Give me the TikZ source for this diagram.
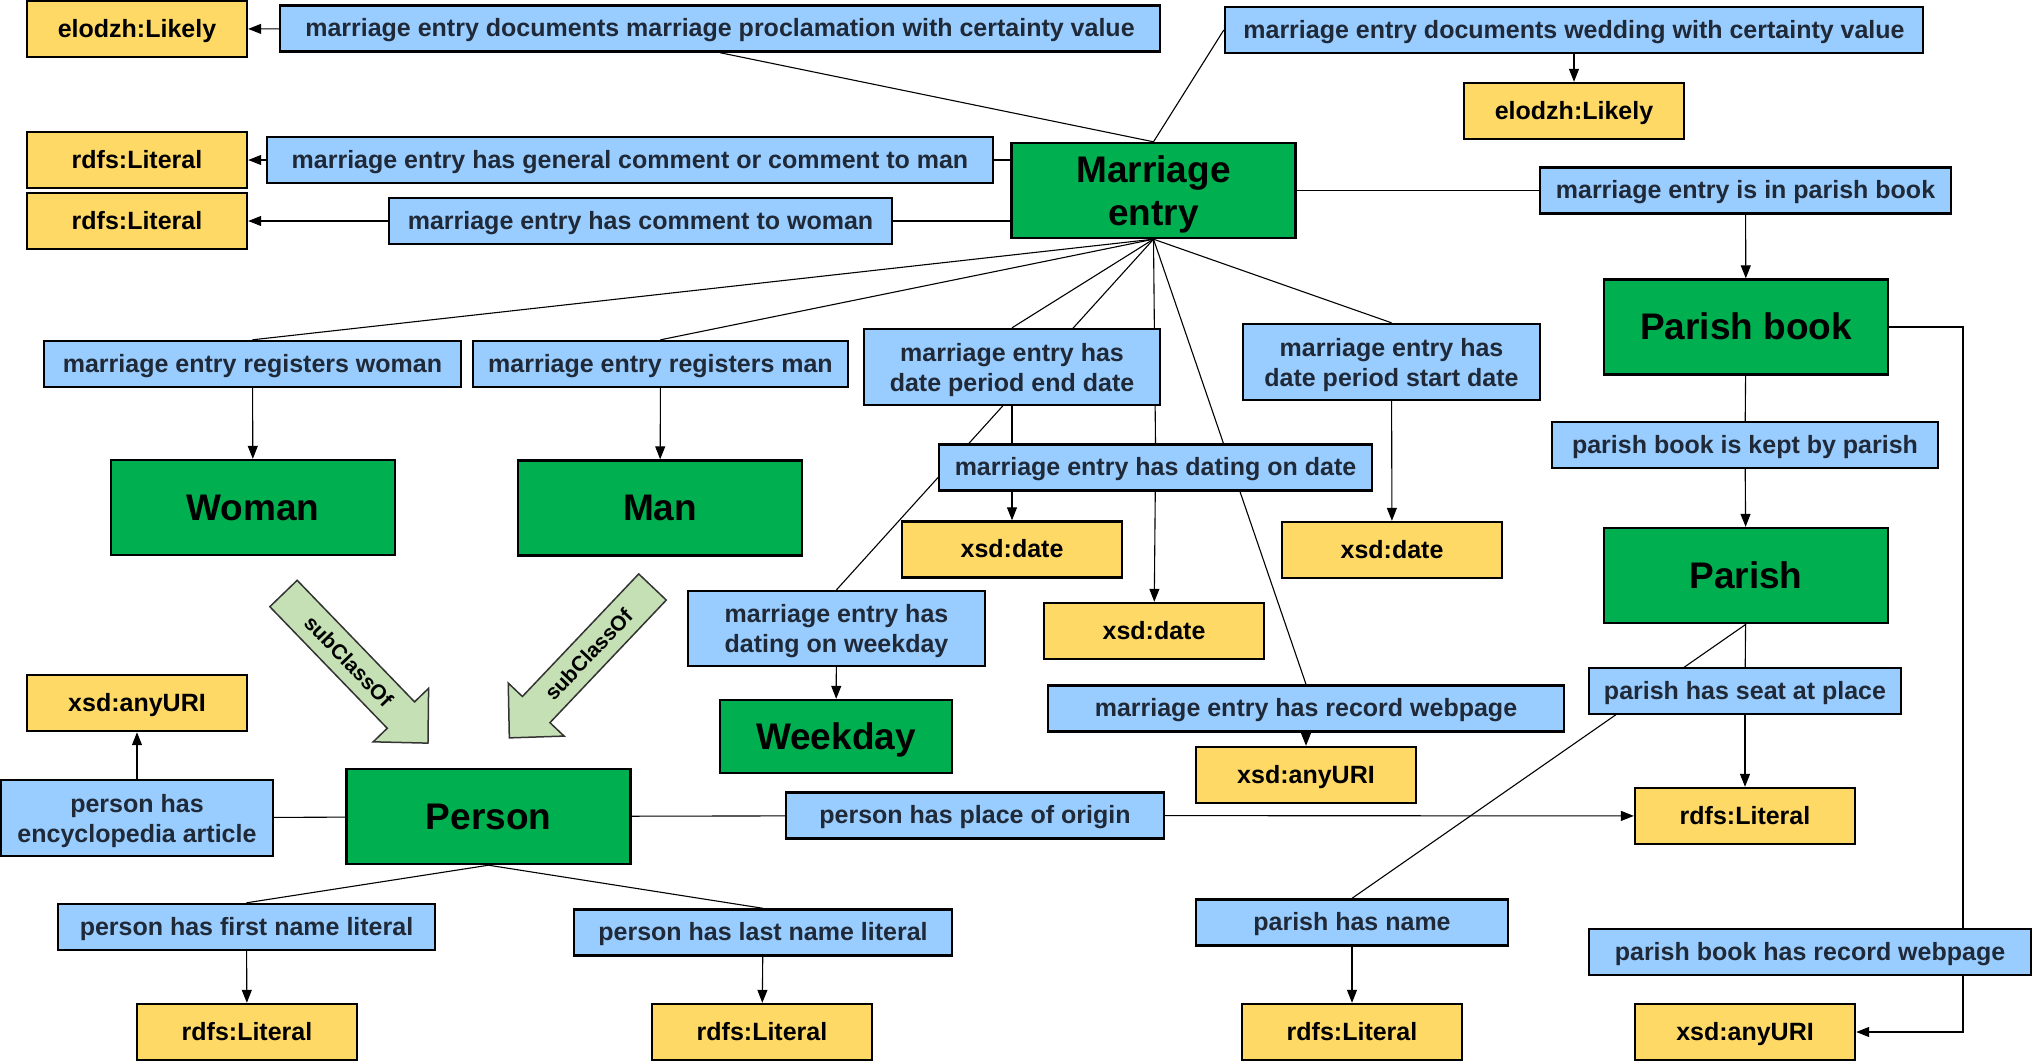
\documentclass[tikz,border=0pt]{standalone}
\usepackage{fontspec}
\setmainfont{Liberation Sans}
\usetikzlibrary{arrows.meta,backgrounds}
\definecolor{propfill}{RGB}{153,204,255}
\definecolor{litfill}{RGB}{255,217,102}
\definecolor{clsfill}{RGB}{0,176,80}
\definecolor{subfill}{RGB}{197,224,180}
\definecolor{proptext}{RGB}{31,41,55}
\begin{document}
\begin{tikzpicture}[x=1pt,y=-1pt]

\tikzstyle{box}=[draw, line width=2.4pt, inner sep=0pt, align=center, text height=18pt, text depth=2pt, font=\fontsize{25}{30}\selectfont\bfseries];
\tikzstyle{two}=[text height={}, text depth=0pt];
\tikzstyle{lit}=[box, fill=litfill, minimum width=220, minimum height=56];
\tikzstyle{prop}=[box, fill=propfill, text=proptext, minimum height=46];
\tikzstyle{cls}=[box, fill=clsfill, text height=27pt, font=\fontsize{37}{43}\selectfont\bfseries, minimum width=284, minimum height=95];
\tikzstyle{e}=[line width=1.1pt];
\tikzstyle{a}=[e, -{Triangle[length=13pt,width=10pt]}];
\tikzstyle{sub}=[draw=black!80, line width=1.5pt, fill=subfill];

\useasboundingbox (0,0) rectangle (2032,1063);

\node[lit] (lik1) at (137,29) {elodzh:Likely};
\node[prop, minimum width=880] (procl) at (720,28.5) {marriage entry documents marriage proclamation with certainty value};
\node[prop, minimum width=698] (wed) at (1574,30) {marriage entry documents wedding with certainty value};
\node[lit] (lik2) at (1574,111) {elodzh:Likely};
\node[lit] (lit1) at (137,160) {rdfs:Literal};
\node[prop, minimum width=726] (gencom) at (630,160) {marriage entry has general comment or comment to man};
\node[lit] (lit2) at (137,221) {rdfs:Literal};
\node[prop, minimum width=503] (womcom) at (640.5,221) {marriage entry has comment to woman};
\node[cls, two] (me) at (1153.5,190.5) {Marriage\\entry};
\node[prop, minimum width=411] (inbook) at (1745.5,190.5) {marriage entry is in parish book};

\node[cls] (pbook) at (1746,327) {Parish book};
\node[prop, minimum width=386] (kept) at (1745,445) {parish book is kept by parish};
\node[cls] (parish) at (1746,575.5) {Parish};
\node[prop, minimum width=312] (seat) at (1745,691) {parish has seat at place};
\node[lit] (lit3) at (1745,816) {rdfs:Literal};
\node[prop, minimum width=312] (pname) at (1352,922.5) {parish has name};
\node[lit] (lit4) at (1352,1032) {rdfs:Literal};
\node[prop, minimum width=442] (pbweb) at (1810,952) {parish book has record webpage};
\node[lit] (uri3) at (1745,1032) {xsd:anyURI};
\coordinate (pbturn) at (1963,1032);

\node[prop, minimum width=417] (regw) at (252.5,364) {marriage entry registers woman};
\node[prop, minimum width=375] (regm) at (660.5,364) {marriage entry registers man};
\node[cls] (woman) at (253,507.5) {Woman};
\node[cls] (man) at (660,508) {Man};
\node[prop, two, minimum width=296, minimum height=76] (enddate) at (1012,367) {marriage entry has\\date period end date};
\node[prop, two, minimum width=297, minimum height=76] (startdate) at (1391.5,362) {marriage entry has\\date period start date};
\node[prop, minimum width=433] (ondate) at (1155.5,467.5) {marriage entry has dating on date};
\node[lit] (date1) at (1012,549.5) {xsd:date};
\node[lit] (date2) at (1154,631) {xsd:date};
\node[lit] (date3) at (1392,550) {xsd:date};
\node[prop, two, minimum width=297, minimum height=75] (onwday) at (836.5,628.5) {marriage entry has\\dating on weekday};
\node[cls, minimum width=232, minimum height=73] (wday) at (836,736.5) {Weekday};
\node[prop, minimum width=516] (recweb) at (1306,708.5) {marriage entry has record webpage};
\node[lit] (uri1) at (1306,775) {xsd:anyURI};

\node[cls] (person) at (488.5,816.5) {Person};
\node[prop, minimum width=378] (origin) at (975,815.5) {person has place of origin};
\node[prop, two, minimum width=272, minimum height=76] (encyc) at (137,818) {person has\\encyclopedia article};
\node[lit] (uri2) at (137,703) {xsd:anyURI};
\node[prop, minimum width=377] (first) at (246.5,927) {person has first name literal};
\node[prop, minimum width=378] (last) at (763,932.5) {person has last name literal};
\node[lit] (lit5) at (247,1032) {rdfs:Literal};
\node[lit] (lit6) at (762,1032) {rdfs:Literal};

\begin{scope}[shift={(283.5,593.5)}, rotate=-46]
\draw[sub] (0,-19) -- (169,-19) -- (169,-38.5) -- (208,0) -- (169,38.5) -- (169,19) -- (0,19) -- cycle;
\node[transform shape, font=\fontsize{21}{21}\selectfont\bfseries] (subw) at (94,0) {subClassOf};
\end{scope}
\begin{scope}[shift={(652.5,587)}, rotate=-133.5]
\draw[sub] (0,-19) -- (169,-19) -- (169,-38.5) -- (208,0) -- (169,38.5) -- (169,19) -- (0,19) -- cycle;
\node[transform shape, rotate=180, font=\fontsize{21}{21}\selectfont\bfseries] (subm) at (93,0) {subClassOf};
\end{scope}

\begin{pgfonlayer}{background}
\draw[e] (me.north) -- (procl.south);
\draw[a] (procl) -- (lik1);
\draw[e] (me.north) -- (wed.west);
\draw[a] (wed) -- (lik2);
\draw[e] (me.west |- gencom) -- (gencom);
\draw[a] (gencom) -- (lit1);
\draw[e] (me.west |- womcom) -- (womcom);
\draw[a] (womcom) -- (lit2);
\draw[e] (me) -- (inbook);
\draw[a] (inbook) -- (pbook);
\draw[e] (pbook) -- (kept);
\draw[a] (kept) -- (parish);
\draw[e] (parish) -- (seat);
\draw[a] (seat) -- (lit3);
\draw[e] (parish.south) -- (pname.north);
\draw[a] (pname) -- (lit4);
\draw[a] (pbook) -| (pbturn) -- (uri3);

\draw[e] (me.south) -- (regw.north);
\draw[a] (regw) -- (woman);
\draw[e] (me.south) -- (regm.north);
\draw[a] (regm) -- (man);
\draw[e] (me.south) -- (enddate.north);
\draw[a] (enddate) -- (date1);
\draw[e] (me.south) -- (ondate.north);
\draw[a] (ondate) -- (date2);
\draw[e] (me.south) -- (startdate.north);
\draw[a] (startdate) -- (date3);
\draw[e] (me.south) -- (onwday.north);
\draw[a] (onwday) -- (wday);
\draw[e] (me.south) -- (recweb.north);
\draw[a] (recweb) -- (uri1);

\draw[e] (person) -- (origin);
\draw[a] (origin) -- (lit3);
\draw[e] (person) -- (encyc);
\draw[a] (encyc) -- (uri2);
\draw[e] (person.south) -- (first.north);
\draw[a] (first) -- (lit5);
\draw[e] (person.south) -- (last.north);
\draw[a] (last) -- (lit6);
\end{pgfonlayer}
\end{tikzpicture}
\end{document}
